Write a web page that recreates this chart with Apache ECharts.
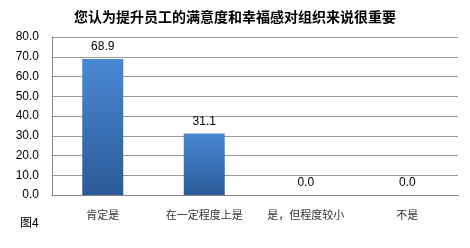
<!DOCTYPE html>
<html><head><meta charset="utf-8">
<script src="https://cdn.jsdelivr.net/npm/echarts@6/dist/echarts.min.js"></script>
<style>html,body{margin:0;padding:0;background:#fff}#c{width:470px;height:248px}</style>
</head><body><div id="c"></div>
<script>
const categories = ['肯定是', '在一定程度上是', '是，但程度较小', '不是'];
const values = [68.9, 31.1, 0.0, 0.0];
const titleText = '您认为提升员工的满意度和幸福感对组织来说很重要';
const figLabel = '图4';

const chart = echarts.init(document.getElementById('c'), null, {renderer: 'canvas'});
chart.setOption({
  animation: false,
  title: {
    text: titleText, left: 'center', top: 5,
    textStyle: {fontSize: 14, fontWeight: 'bold', color: '#000', fontFamily: 'Noto Sans CJK SC'}
  },
  graphic: [{
    type: 'text', left: 20, top: 216,
    style: {text: figLabel, fontSize: 12, fill: '#000', fontFamily: 'Noto Sans CJK SC'}
  }],
  grid: {left: 52, right: 12, top: 37, bottom: 53},
  xAxis: {
    type: 'category', data: categories,
    axisLine: {lineStyle: {color: '#888', width: 1}},
    axisTick: {show: false},
    axisLabel: {color: '#333', fontSize: 11, margin: 14, fontFamily: 'Noto Sans CJK SC'}
  },
  yAxis: {
    type: 'value', min: 0, max: 80, interval: 10,
    axisLine: {show: true, lineStyle: {color: '#888'}},
    axisTick: {show: false},
    axisLabel: {color: '#000', fontSize: 12, margin: 13, formatter: v => v.toFixed(1), fontFamily: 'Liberation Sans'},
    splitLine: {lineStyle: {color: '#999', width: 1}}
  },
  series: [{
    type: 'bar', data: values, barWidth: 41,
    itemStyle: {
      color: new echarts.graphic.LinearGradient(0, 0, 0, 1, [
        {offset: 0, color: '#4a88d4'}, {offset: 1, color: '#2c5b99'}
      ])
    },
    label: {
      show: true, position: 'top', distance: 6, color: '#000', fontSize: 12,
      fontFamily: 'Liberation Sans', formatter: p => p.value.toFixed(1)
    }
  }]
});
</script></body></html>
